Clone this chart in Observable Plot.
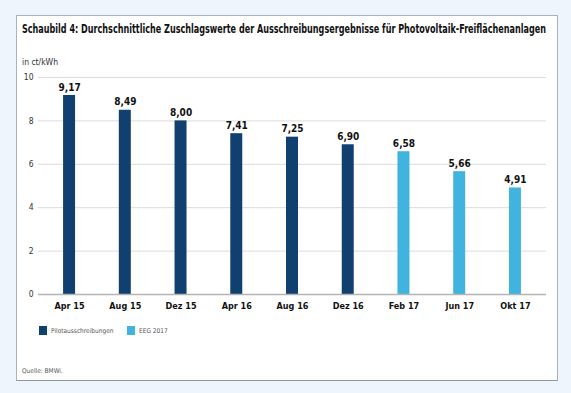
<!DOCTYPE html>
<html>
<head>
<meta charset="utf-8">
<script src="https://cdn.jsdelivr.net/npm/d3@7"></script>
<script src="https://cdn.jsdelivr.net/npm/@observablehq/plot@0.6"></script>
<style>
  html, body { margin: 0; padding: 0; background: #eef5fc; }
  #page { position: relative; width: 571px; height: 393px; overflow: hidden; background: #eef5fc;
          font-family: "Liberation Sans Narrow", "DejaVu Sans Condensed", "Liberation Sans", sans-serif; color: #1a1a1a; }
  #panel { position: absolute; left: 16px; top: 15px; width: 540px; height: 364px; background: #fff;
           border: 1px solid #a9b3bb; border-bottom-color: #8e9a98; }
  #title { position: absolute; left: 22px; top: 22px; font-weight: bold; font-size: 12px; white-space: nowrap; transform-origin: 0 0; color: #111; }
  #unit { position: absolute; left: 22px; top: 57px; font-size: 8.5px; color: #333; }
  #chart { position: absolute; left: 17px; top: 67px; }
  .leg { position: absolute; top: 326px; font-size: 6.5px; color: #555; display: flex; align-items: center; }
  .sw { display: inline-block; width: 8px; height: 9px; margin-right: 4px; }
  #caption { position: absolute; left: 22px; top: 367px; font-size: 6.5px; color: #555; }
</style>
</head>
<body>
<div id="page">
  <div id="panel"></div>
  <div id="title">Schaubild 4: Durchschnittliche Zuschlagswerte der Ausschreibungsergebnisse für Photovoltaik-Freiflächenanlagen</div>
  <div id="unit">in ct/kWh</div>
  <div id="chart"></div>
  <div class="leg" style="left:39px"><span class="sw" style="background:#10406f"></span>Pilotausschreibungen</div>
  <div class="leg" style="left:127px"><span class="sw" style="background:#41b3df"></span>EEG 2017</div>
  <div id="caption">Quelle: BMWi.</div>
</div>
<script>
const categories = ["Apr 15", "Aug 15", "Dez 15", "Apr 16", "Aug 16", "Dez 16", "Feb 17", "Jun 17", "Okt 17"];
const values = [9.17, 8.49, 8.00, 7.41, 7.25, 6.90, 6.58, 5.66, 4.91];
const series = ["Pilotausschreibungen", "Pilotausschreibungen", "Pilotausschreibungen", "Pilotausschreibungen",
                 "Pilotausschreibungen", "Pilotausschreibungen", "EEG 2017", "EEG 2017", "EEG 2017"];
const seriesNames = ["Pilotausschreibungen", "EEG 2017"];
const seriesColors = ["#10406f", "#41b3df"];
const yTicks = [0, 2, 4, 6, 8, 10];

const data = categories.map((c, i) => ({cat: c, value: values[i], series: series[i]}));
const fmt = v => v.toFixed(2).replace(".", ",");

const plot = Plot.plot({
  width: 538,
  height: 252,
  marginLeft: 21,
  marginRight: 9,
  marginTop: 10,
  marginBottom: 25,
  style: {fontFamily: '"Liberation Sans Narrow", "DejaVu Sans Condensed", "Liberation Sans", sans-serif', background: "transparent", color: "#222"},
  x: {domain: categories, paddingInner: 0.785, paddingOuter: 0.45, round: false, label: null},
  y: {domain: [0, 10], label: null},
  color: {domain: seriesNames, range: seriesColors},
  marks: [
    Plot.ruleY(yTicks.filter(d => d > 0), {stroke: "#dcdcdc", strokeWidth: 1}),
    Plot.barY(data, {x: "cat", y: "value", fill: "series"}),
    Plot.ruleY([0], {stroke: "#b5b5b5", strokeWidth: 1.5}),
    Plot.text(data, {x: "cat", y: "value", text: d => fmt(d.value), dy: -8, fontWeight: "bold", fontSize: 10, fill: "#111"}),
    Plot.axisY({ticks: yTicks, tickSize: 0, tickPadding: 5, fontSize: 8.5, label: null, fill: "#333"}),
    Plot.axisX({tickSize: 0, tickPadding: 8, fontSize: 9, fontWeight: "bold", label: null, fill: "#111"})
  ]
});
document.getElementById("chart").appendChild(plot);

// fit title to its width in the reference
const t = document.getElementById("title");
const w = t.getBoundingClientRect().width;
t.style.transform = `scaleX(${524 / w})`;
</script>
</body>
</html>
